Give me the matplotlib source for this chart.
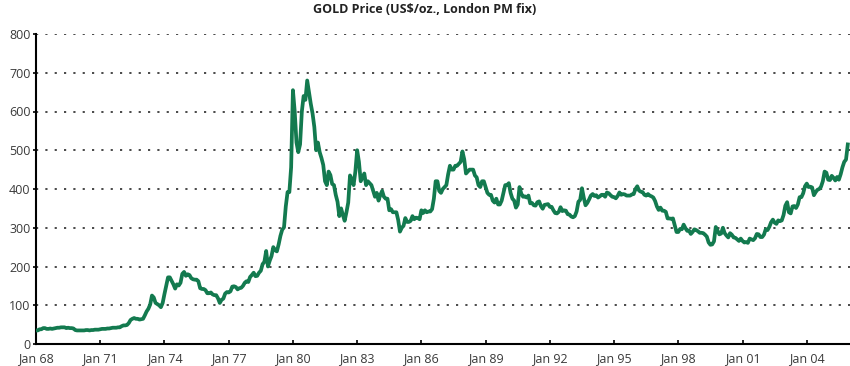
import matplotlib
matplotlib.use("Agg")
import matplotlib.pyplot as plt
import numpy as np

plt.rcParams["font.family"] = ["Open Sans", "DejaVu Sans"]

# monthly gold price, US$/oz (London PM fix), Jan 1968 - Dec 2005
p_1968_1973 = [
    35, 35, 38, 38, 41, 41, 39, 39, 40, 39, 40, 41,
    42, 42, 43, 43, 43, 41, 42, 41, 41, 40, 36, 35,
    35, 35, 35, 35, 36, 36, 35, 36, 36, 37, 37, 37,
    38, 39, 39, 39, 40, 40, 41, 42, 42, 42, 43, 43,
    46, 48, 48, 49, 54, 62, 65, 67, 65, 65, 63, 64,
    65, 74, 84, 91, 102, 125, 120, 106, 103, 100, 95, 106,
]
p_1974_1979 = [
    129, 150, 172, 172, 163, 154, 143, 154, 151, 158, 181, 186,
    176, 180, 178, 170, 167, 166, 166, 162, 144, 142, 142, 139,
    131, 131, 133, 128, 126, 126, 118, 106, 114, 117, 130, 134,
    133, 136, 148, 149, 147, 141, 144, 145, 150, 158, 162, 160,
    173, 178, 184, 175, 176, 184, 189, 206, 212, 240, 200, 215,
    227, 250, 242, 239, 257, 279, 295, 301, 355, 392, 392, 456,
]
p_1980_1985 = [
    655, 600, 520, 495, 515, 600, 640, 630, 680, 650, 620, 595,
    560, 500, 520, 495, 480, 462, 420, 410, 445, 436, 413, 410,
    385, 367, 330, 350, 333, 318, 340, 365, 435, 425, 410, 445,
    500, 470, 420, 430, 440, 410, 420, 415, 410, 395, 380, 390,
    370, 385, 395, 380, 375, 375, 345, 348, 340, 340, 340, 320,
    290, 300, 305, 325, 315, 315, 318, 330, 322, 326, 325, 322,
]
p_1986_1991 = [
    345, 338, 345, 340, 342, 342, 348, 375, 420, 420, 395, 390,
    400, 405, 410, 438, 460, 450, 450, 460, 460, 465, 470, 497,
    477, 440, 445, 450, 450, 450, 435, 430, 410, 405, 420, 420,
    405, 390, 385, 385, 370, 365, 375, 360, 360, 370, 390, 410,
    410, 415, 390, 375, 370, 352, 360, 405, 388, 380, 381, 378,
    383, 363, 364, 358, 357, 366, 368, 356, 349, 359, 360, 361,
]
p_1992_1997 = [
    354, 354, 345, 338, 337, 341, 353, 343, 345, 344, 335, 334,
    329, 327, 330, 342, 367, 372, 402, 378, 358, 364, 373, 383,
    387, 382, 384, 378, 381, 385, 385, 380, 391, 389, 384, 380,
    379, 376, 382, 391, 385, 387, 386, 383, 383, 383, 386, 387,
    400, 407, 396, 393, 392, 385, 383, 387, 383, 381, 378, 369,
    355, 346, 352, 344, 344, 341, 324, 324, 323, 324, 307, 289,
]
p_1998_2005 = [
    289, 297, 296, 308, 299, 292, 293, 284, 289, 296, 294, 291,
    287, 287, 286, 282, 277, 262, 256, 257, 265, 302, 293, 283,
    285, 300, 286, 280, 275, 286, 282, 275, 274, 270, 266, 272,
    266, 262, 263, 261, 272, 270, 268, 273, 284, 283, 276, 276,
    282, 296, 294, 302, 314, 321, 313, 310, 319, 317, 319, 333,
    357, 366, 340, 337, 355, 356, 351, 360, 379, 379, 389, 407,
    414, 405, 406, 404, 384, 392, 398, 400, 406, 420, 445, 442,
    424, 423, 434, 429, 422, 431, 424, 438, 456, 470, 476, 515,
]

tick_years = list(range(1968, 2005, 3))
tick_labels = [f"Jan {y % 100:02d}" for y in tick_years]

prices = np.array(p_1968_1973 + p_1974_1979 + p_1980_1985
                  + p_1986_1991 + p_1992_1997 + p_1998_2005, dtype=float)
t = 1968 + np.arange(len(prices)) / 12

fig = plt.figure(figsize=(8.5, 3.66), dpi=100)
ax = fig.add_axes([36 / 850, 22 / 366, 814 / 850, 310 / 366])

ax.plot(t, prices, color="#137a4f", lw=2.7, solid_joinstyle="round", zorder=3)

ax.set_xlim(1968, 1968 + 814 / 21.41)
ax.set_ylim(0, 800)
ax.set_yticks(range(0, 801, 100))
ax.set_xticks(tick_years)
ax.set_xticklabels(tick_labels)

for v in range(100, 801, 100):
    ax.axhline(v, color="#2a2a2a", lw=1.2, ls=(0, (1.3, 4.3)), zorder=1)

for s in ("top", "right"):
    ax.spines[s].set_visible(False)
ax.spines["left"].set_linewidth(1.5)
ax.spines["bottom"].set_linewidth(1.5)
ax.tick_params(axis="x", direction="in", length=3, width=1.2,
               labelsize=9, labelcolor="#3a3a3a", pad=6)
ax.tick_params(axis="y", direction="out", length=2, width=1.2,
               labelsize=9, labelcolor="#3a3a3a", pad=2)

fig.text(0.5, 0.973, "GOLD Price (US$/oz., London PM fix)", ha="center",
         va="center", fontsize=9, fontweight="bold", color="#222222")

fig.savefig("out.png", dpi=100)
